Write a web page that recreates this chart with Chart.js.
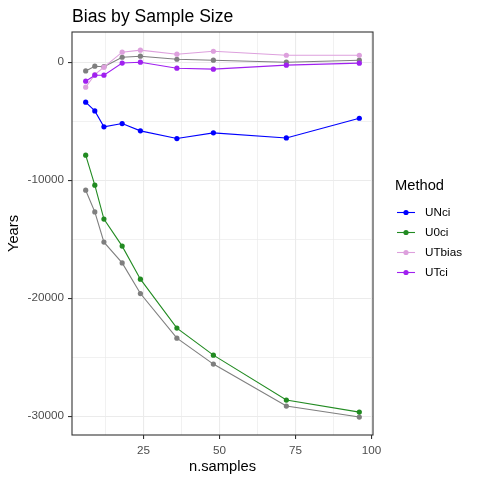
<!DOCTYPE html>
<html>
<head>
<meta charset="utf-8">
<script src="https://cdn.jsdelivr.net/npm/chart.js@4.4.1/dist/chart.umd.min.js"></script>
<style>
  html, body { margin: 0; padding: 0; background: #ffffff; }
  #wrap { width: 480px; height: 480px; }
</style>
</head>
<body>
<div id="wrap"><canvas id="biasChart" width="480" height="480"></canvas></div>
<script>
// sample sizes on the x axis
const nSamples = [6, 9, 12, 18, 24, 36, 48, 72, 96];

// legend entries and their colours
const methods = ['UNci', 'U0ci', 'UTbias', 'UTci'];
const methodColors = ['#0000FF', '#228B22', '#DDA0DD', '#A020F0'];

// bias values (years)
const unci   = [-3390, -4130, -5480, -5200, -5820, -6470, -5990, -6420, -4750];
const u0ci   = [-7880, -10420, -13300, -15590, -18390, -22540, -24830, -28640, -29660];
const utbias = [-2120, -1050, -420, 850, 1020, 680, 930, 590, 590];
const utci   = [-1610, -1100, -1100, -70, 0, -510, -590, -250, -80];

// the two grey series without legend entry
const greyUpper = [-740, -340, -380, 420, 510, 250, 170, 0, 170];
const greyLower = [-10850, -12690, -15250, -17010, -19610, -23390, -25590, -29150, -30080];

// axis breaks
const xMajor = [25, 50, 75, 100];
const xMinor = [12.5, 37.5, 62.5, 87.5];
const yMajor = [-30000, -20000, -10000, 0];
const yMinor = [-25000, -15000, -5000];

const FONT = '"Liberation Sans", Arial, sans-serif';
const GREY = '#7F7F7F';

function series(label, values, color, order) {
	return {
		label: label,
		data: nSamples.map((x, i) => ({ x: x, y: values[i] })),
		borderColor: color,
		backgroundColor: color,
		borderWidth: 1.1,
		pointRadius: 2.6,
		pointHoverRadius: 2.6,
		pointBorderWidth: 0,
		tension: 0,
		order: order
	};
}

const datasets = [
	series('grey upper', greyUpper, GREY, 6),
	series('grey lower', greyLower, GREY, 5),
	series(methods[0], unci, methodColors[0], 4),
	series(methods[1], u0ci, methodColors[1], 3),
	series(methods[2], utbias, methodColors[2], 2),
	series(methods[3], utci, methodColors[3], 1)
];

const isMajor = (list, v) => list.some(m => Math.abs(m - v) < 1e-6);

// title, panel border and legend in ggplot style
const ggDecor = {
	id: 'ggDecor',
	afterDatasetsDraw(chart) {
		const { ctx, chartArea: a } = chart;
		ctx.save();
		ctx.strokeStyle = '#333333';
		ctx.lineWidth = 1.1;
		ctx.strokeRect(a.left, a.top, a.right - a.left, a.bottom - a.top);
		ctx.restore();
	},
	afterDraw(chart) {
		const { ctx, chartArea: a } = chart;
		ctx.save();
		ctx.fillStyle = '#000000';
		ctx.textBaseline = 'middle';
		ctx.textAlign = 'left';
		ctx.font = '17.6px ' + FONT;
		ctx.fillText('Bias by Sample Size', a.left, 17);

		// legend
		const lx = 395;
		ctx.font = '14.7px ' + FONT;
		ctx.fillText('Method', lx, 186);
		ctx.font = '11.7px ' + FONT;
		methods.forEach((m, i) => {
			const y = 212.5 + i * 20;
			ctx.strokeStyle = methodColors[i];
			ctx.fillStyle = methodColors[i];
			ctx.lineWidth = 1.1;
			ctx.beginPath();
			ctx.moveTo(lx + 2, y);
			ctx.lineTo(lx + 20, y);
			ctx.stroke();
			ctx.beginPath();
			ctx.arc(lx + 11, y, 2.6, 0, Math.PI * 2);
			ctx.fill();
			ctx.fillStyle = '#000000';
			ctx.fillText(m, lx + 30, y);
		});
		ctx.restore();
	}
};

new Chart(document.getElementById('biasChart'), {
	type: 'line',
	data: { datasets: datasets },
	plugins: [ggDecor],
	options: {
		responsive: false,
		animation: false,
		layout: { padding: { left: 0, right: 107, top: 32, bottom: 0 } },
		plugins: {
			legend: { display: false },
			tooltip: { enabled: false },
			title: { display: false }
		},
		scales: {
			x: {
				type: 'linear',
				min: 1.5,
				max: 100.5,
				afterFit: scale => { scale.height = 45; },
				afterBuildTicks: scale => {
					scale.ticks = xMinor.concat(xMajor).sort((p, q) => p - q).map(v => ({ value: v }));
				},
				grid: {
					color: '#EBEBEB',
					lineWidth: c => isMajor(xMajor, c.tick.value) ? 1.1 : 0.7,
					drawTicks: true,
					tickLength: 4,
					tickWidth: 1.1,
					tickColor: c => isMajor(xMajor, c.tick.value) ? '#333333' : 'rgba(0,0,0,0)'
				},
				border: { display: false },
				ticks: {
					autoSkip: false,
					maxRotation: 0,
					padding: 5,
					color: '#4D4D4D',
					font: { family: FONT, size: 11.7 },
					callback: v => isMajor(xMajor, v) ? String(v) : ''
				},
				title: {
					display: true,
					text: 'n.samples',
					color: '#000000',
					font: { family: FONT, size: 14.7 },
					padding: { top: 0, bottom: 4 }
				}
			},
			y: {
				type: 'linear',
				min: -31600,
				max: 2560,
				afterFit: scale => { scale.width = 72; },
				afterBuildTicks: scale => {
					scale.ticks = yMinor.concat(yMajor).sort((p, q) => p - q).map(v => ({ value: v }));
				},
				grid: {
					color: '#EBEBEB',
					lineWidth: c => isMajor(yMajor, c.tick.value) ? 1.1 : 0.7,
					drawTicks: true,
					tickLength: 4,
					tickWidth: 1.1,
					tickColor: c => isMajor(yMajor, c.tick.value) ? '#333333' : 'rgba(0,0,0,0)'
				},
				border: { display: false },
				ticks: {
					autoSkip: false,
					padding: 4,
					color: '#4D4D4D',
					font: { family: FONT, size: 11.7 },
					callback: v => isMajor(yMajor, v) ? String(v) : ''
				},
				title: {
					display: true,
					text: 'Years',
					color: '#000000',
					font: { family: FONT, size: 14.7 },
					padding: { top: 5, bottom: 0 }
				}
			}
		}
	}
});
</script>
</body>
</html>
